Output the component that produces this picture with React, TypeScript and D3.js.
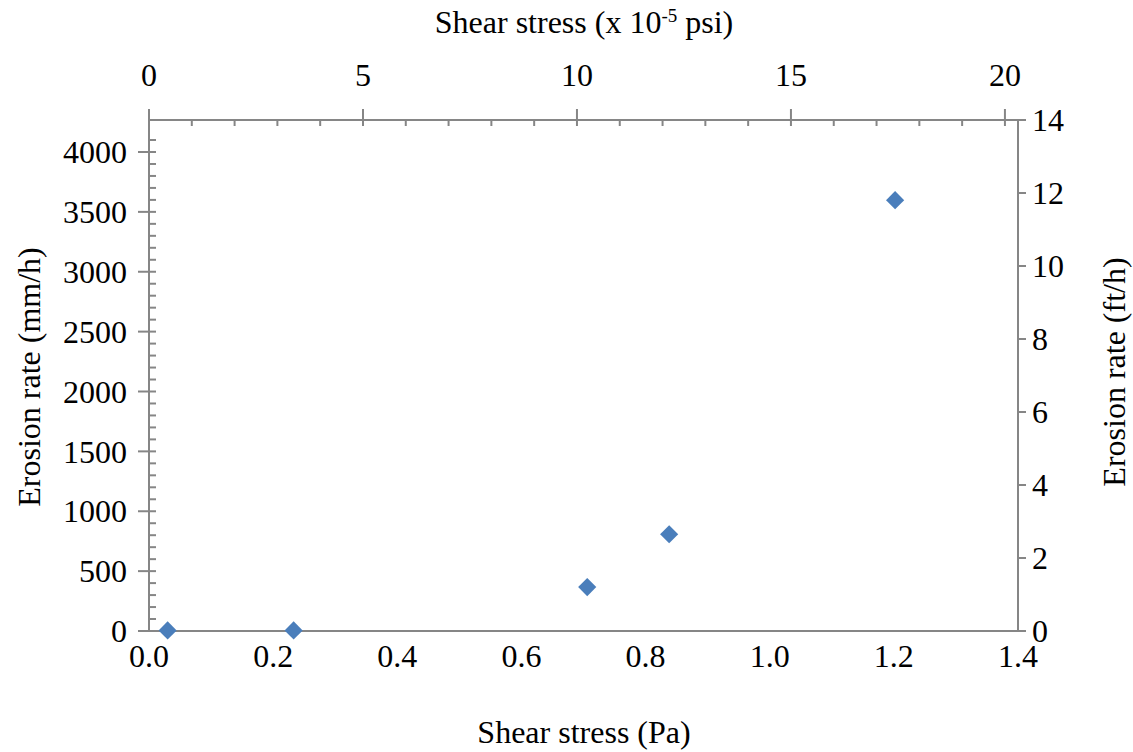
import React from "react";
import * as d3 from "d3";

// Measured erosion rates against bed shear stress
const shearPa: number[] = [0.03, 0.233, 0.706, 0.838, 1.202];
const erosionMmPerH: number[] = [5, 5, 367, 808, 3598];

// Tick values for the four axes
const bottomTicks: number[] = [0, 0.2, 0.4, 0.6, 0.8, 1.0, 1.2, 1.4];
const leftTicks: number[] = [0, 500, 1000, 1500, 2000, 2500, 3000, 3500, 4000];
const topTicks: number[] = [0, 5, 10, 15, 20];
const rightTicks: number[] = [0, 2, 4, 6, 8, 10, 12, 14];

// Unit conversions for the secondary axes
const PA_TO_1E5PSI = 14.5038;
const FT_TO_MM = 304.8;

const W = 1133;
const H = 752;
const left = 149;
const right = 1018;
const top = 120;
const bottom = 631;

const axisColor = "#868686";
const markColor = "#4A7EBB";
const font = "'Liberation Serif', 'Times New Roman', serif";

export default function App() {
  const x = d3.scaleLinear().domain([0, 1.4]).range([left, right]);
  const xTop = d3.scaleLinear().domain([0, 1.4 * PA_TO_1E5PSI]).range([left, right]);
  const yRight = d3.scaleLinear().domain([0, 14]).range([bottom, top]);
  const y = d3.scaleLinear().domain([0, 14 * FT_TO_MM]).range([bottom, top]);

  const leftMinor = d3.range(100, 4200, 100).filter((v) => v % 500 !== 0);
  const topMinor = d3.range(1, 21, 1).filter((v) => v % 5 !== 0);

  const diamond = d3.symbol().type(d3.symbolDiamond2).size(210)();

  const tickFont = 32;
  const titleFont = 32;

  return (
    <svg
      width={W}
      height={H}
      viewBox={`0 0 ${W} ${H}`}
      style={{ position: "absolute", left: 0, top: 0, background: "#fff" }}
      fontFamily={font}
    >
      {/* axis lines */}
      <g stroke={axisColor} strokeWidth={2} fill="none">
        <line x1={left} x2={right + 8} y1={bottom} y2={bottom} />
        <line x1={left} x2={right + 8} y1={top} y2={top} />
        <line x1={left} x2={left} y1={top - 11} y2={bottom} />
        <line x1={right} x2={right} y1={top} y2={bottom} />

        {/* left axis: major ticks across, minor ticks inside */}
        {leftTicks.map((v) => (
          <line key={`lm${v}`} x1={left - 11} x2={v === 0 ? left : left + 7} y1={y(v)} y2={y(v)} />
        ))}
        {leftMinor.map((v) => (
          <line key={`ln${v}`} x1={left} x2={left + 7} y1={y(v)} y2={y(v)} />
        ))}

        {/* top axis: major ticks across, minor ticks inside */}
        {topTicks.map((v) => (
          <line key={`tm${v}`} x1={xTop(v)} x2={xTop(v)} y1={top - 11} y2={v === 0 ? top : top + 6} />
        ))}
        {topMinor.map((v) => (
          <line key={`tn${v}`} x1={xTop(v)} x2={xTop(v)} y1={top} y2={top + 6} />
        ))}

        {/* right axis: outward ticks */}
        {rightTicks.map((v) => (
          <line key={`rm${v}`} x1={right} x2={right + 8} y1={yRight(v)} y2={yRight(v)} />
        ))}
      </g>

      {/* tick labels */}
      <g fontSize={tickFont} fill="#000">
        {bottomTicks.map((v) => (
          <text key={`bl${v}`} x={x(v)} y={667} textAnchor="middle">
            {v.toFixed(1)}
          </text>
        ))}
        {leftTicks.map((v) => (
          <text key={`ll${v}`} x={127} y={y(v)} dy="0.35em" textAnchor="end">
            {v}
          </text>
        ))}
        {topTicks.map((v) => (
          <text key={`tl${v}`} x={xTop(v)} y={86} textAnchor="middle">
            {v}
          </text>
        ))}
        {rightTicks.map((v) => (
          <text key={`rl${v}`} x={1032} y={yRight(v)} dy="0.33em" textAnchor="start">
            {v}
          </text>
        ))}
      </g>

      {/* axis titles */}
      <g fontSize={titleFont} fill="#000">
        <text x={584} y={743} textAnchor="middle">
          Shear stress (Pa)
        </text>
        <text x={584} y={33} textAnchor="middle">
          Shear stress (x 10
          <tspan fontSize={19} dy={-11}>-5</tspan>
          <tspan dy={11}> psi)</tspan>
        </text>
        <text transform="translate(40,377) rotate(-90)" textAnchor="middle">
          Erosion rate (mm/h)
        </text>
        <text transform="translate(1125,372) rotate(-90)" textAnchor="middle">
          Erosion rate (ft/h)
        </text>
      </g>

      {/* data */}
      <g fill={markColor}>
        {shearPa.map((s, i) => (
          <path key={`p${i}`} d={diamond ?? ""} transform={`translate(${x(s)},${y(erosionMmPerH[i])})`} />
        ))}
      </g>
    </svg>
  );
}
